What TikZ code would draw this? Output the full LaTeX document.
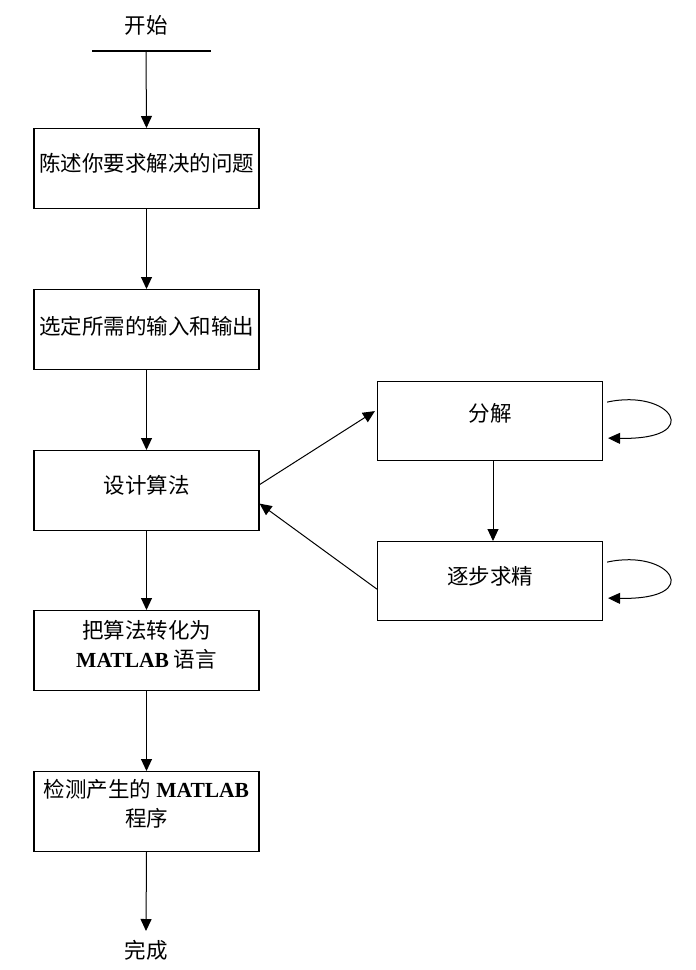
\documentclass[tikz,border=0pt]{standalone}
\usepackage{fontspec}
\setmainfont{Noto Sans CJK SC}
\newfontfamily\lserif{Liberation Serif}
\newcommand\mlabtxt{{\lserif\bfseries MATLAB}}
\usetikzlibrary{arrows.meta,calc}
\begin{document}
\begin{tikzpicture}[x=1pt,y=-1pt,
  box/.style={draw,line width=1.2pt,minimum width=225pt,minimum height=80pt,inner sep=0pt,anchor=north},
  txt/.style={font=\fontsize{21.5}{29}\selectfont,align=center,inner sep=0pt},
  conn/.style={line width=1pt,-{Triangle[length=12pt,width=11pt]}}
]
\useasboundingbox (0,0) rectangle (696,970);
% start
\node[txt] (start) at (146,25) {开始};
\coordinate (sl) at (92,51);
\coordinate (sr) at (211,51);
\coordinate (sm) at (146,51);
\draw[line width=1.6pt] (sl) -- (sr);
% left column boxes
\node[box] (b1) at (146.5,128) {};
\node[txt] (t1) at (146.5,163) {陈述你要求解决的问题};
\node[box] (b2) at (146.5,289) {};
\node[txt] (t2) at (146.5,326) {选定所需的输入和输出};
\node[box] (b3) at (146.5,450) {};
\node[txt] (t3) at (146.5,485) {设计算法};
\node[box] (b4) at (146.5,610) {};
\node[txt] (t4) at (146.5,645) {把算法转化为\\\mlabtxt{} 语言};
\node[box] (b5) at (146.5,771) {};
\node[txt] (t5) at (146.5,804) {检测产生的 \mlabtxt\\程序};
% right boxes
\node[box,minimum height=79pt] (b6) at (490,381) {};
\node[txt] (t6) at (490,413) {分解};
\node[box,minimum height=79pt] (b7) at (490,541) {};
\node[txt] (t7) at (490,576) {逐步求精};
% end
\node[txt] (end) at (146,950) {完成};
\coordinate (ea) at (146,931);
\coordinate (v6) at (493,460);
\coordinate (v7) at (493,541);
% connectors
\draw[conn] (sm) -- (b1.north);
\draw[conn] (b1.south) -- (b2.north);
\draw[conn] (b2.south) -- (b3.north);
\draw[conn] (b3.south) -- (b4.north);
\draw[conn] (b4.south) -- (b5.north);
\draw[conn] (b5.south) -- (ea);
\draw[conn] ($(b3.east)+(0,-6)$) -- ($(b6.west)+(-2,-10)$);
\draw[conn] ($(b7.west)+(0,8)$) -- ($(b3.east)+(0,13)$);
\draw[conn] (v6) -- (v7);
% self loops
\draw[conn] ($(b6.east)+(4,-19)$) .. controls +(64,-14) and +(98,2) .. ($(b6.east)+(5,17)$);
\draw[conn] ($(b7.east)+(4,-19)$) .. controls +(64,-14) and +(98,2) .. ($(b7.east)+(5,17)$);
\end{tikzpicture}
\end{document}
